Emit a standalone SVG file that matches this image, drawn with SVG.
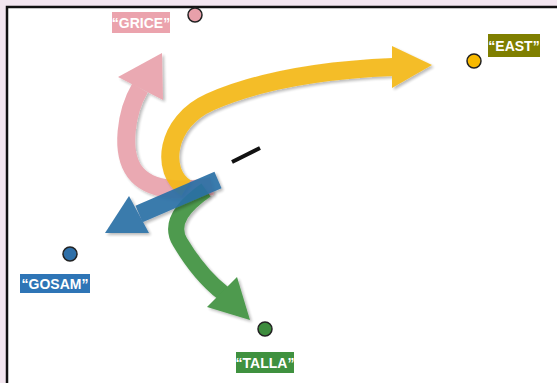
<svg xmlns="http://www.w3.org/2000/svg" width="557" height="383" viewBox="0 0 557 383">
<defs>
<style>
.lbl{font-family:"Liberation Sans",Arial,sans-serif;font-weight:bold;font-size:14px;fill:#ffffff;text-anchor:middle}
.node{stroke:#222;stroke-width:1.5}
.shaft{fill:none;stroke-linecap:butt;stroke-linejoin:round}
</style>
<filter id="sh" x="-20%" y="-20%" width="140%" height="140%">
<feGaussianBlur in="SourceAlpha" stdDeviation="1.5"/>
<feOffset dx="1.5" dy="1.5" result="b"/>
<feComponentTransfer><feFuncA type="linear" slope="0.3"/></feComponentTransfer>
<feMerge><feMergeNode/><feMergeNode in="SourceGraphic"/></feMerge>
</filter>
</defs>
<rect x="0" y="0" width="557" height="383" fill="#f3e6f0"/>
<rect x="7" y="7" width="560" height="390" fill="#ffffff" stroke="#111" stroke-width="2.5"/>
<g id="connectors">
<g id="arrow-grice" opacity="0.9" filter="url(#sh)">
<path class="shaft" d="M212,186 C185,192 150,192 135,172 C120,152 126,112 140,88" stroke="#e8a0aa" stroke-width="18"/>
<polygon points="162,53 118,77 163,100" fill="#e8a0aa"/>
</g>
<g id="arrow-east" opacity="0.92" filter="url(#sh)">
<path class="shaft" d="M186,188 C160,172 165,122 210,102 C260,80 320,70 393,67" stroke="#f4b819" stroke-width="18"/>
<polygon points="432,65 392,46 392,88" fill="#f4b819"/>
</g>
<g id="arrow-talla" opacity="0.92" filter="url(#sh)">
<path class="shaft" d="M206,190 C186,204 168,222 180,242 C192,262 206,280 223,293" stroke="#3f923f" stroke-width="16"/>
<polygon points="250,320 207,307 237,277" fill="#3f923f"/>
</g>
<g id="arrow-gosam" opacity="0.92" filter="url(#sh)">
<path class="shaft" d="M218,180 L139,214" stroke="#2b6fa6" stroke-width="18"/>
<polygon points="105,233 129,196 149,233" fill="#2b6fa6"/>
</g>
<line x1="232" y1="162" x2="260" y2="148" stroke="#111" stroke-width="4"/>
</g>
<g id="node-grice">
<circle class="node" cx="195" cy="15" r="7" fill="#e8a0aa"/>
<rect x="112" y="12" width="58" height="21" fill="#eba3ad"/>
<text class="lbl" x="141" y="28">“GRICE”</text>
</g>
<g id="node-east">
<circle class="node" cx="474" cy="61" r="7" fill="#f7b900"/>
<rect x="488" y="34" width="52" height="23" fill="#7f7f00"/>
<text class="lbl" x="514" y="51">“EAST”</text>
</g>
<g id="node-gosam">
<circle class="node" cx="70" cy="254" r="7" fill="#2e6fa8"/>
<rect x="20" y="274" width="70" height="19" fill="#2e75b6"/>
<text class="lbl" x="55" y="289">“GOSAM”</text>
</g>
<g id="node-talla">
<circle class="node" cx="265" cy="329" r="7" fill="#3d8c3d"/>
<rect x="236" y="352" width="58" height="21" fill="#3f913f"/>
<text class="lbl" x="265" y="368">“TALLA”</text>
</g>
</svg>
